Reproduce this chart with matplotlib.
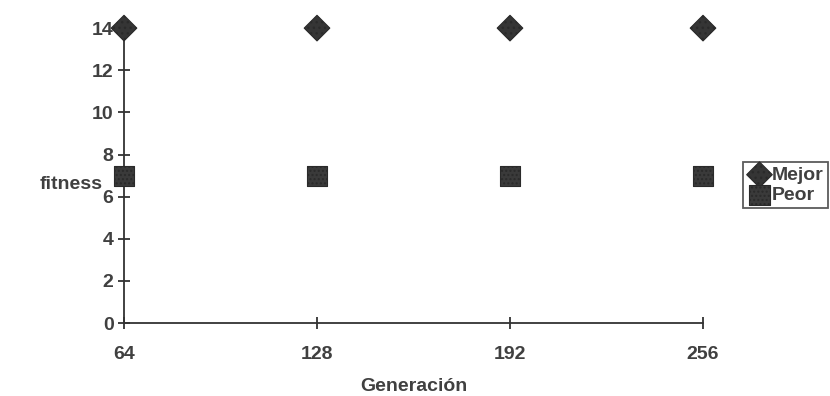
import matplotlib
matplotlib.use("Agg")
import matplotlib.pyplot as plt

generaciones = [64, 128, 192, 256]
mejor = [14, 14, 14, 14]
peor = [7, 7, 7, 7]
yticks = [0, 2, 4, 6, 8, 10, 12, 14]

plt.rcParams['font.family'] = ['Liberation Sans', 'DejaVu Sans']
plt.rcParams['hatch.color'] = '#aaaaaa'
plt.rcParams['hatch.linewidth'] = 1.0

fig = plt.figure(figsize=(8.3, 3.96), dpi=100)
ax = fig.add_axes([0.1494, 0.1843, 0.6976, 0.7447])

txt = '#404040'
ax.scatter(generaciones, mejor, marker='D', s=170, color='#353535',
           edgecolor='#2a2a2a', linewidth=0.8, hatch='...', zorder=5, clip_on=False,
           label='Mejor')
ax.scatter(generaciones, peor, marker='s', s=210, color='#3a3a3a',
           edgecolor='#2a2a2a', linewidth=0.8, hatch='....', zorder=5, clip_on=False,
           label='Peor')

ax.set_xlim(64, 256)
ax.set_ylim(0, 14)
ax.set_xticks(generaciones)
ax.set_xticklabels([str(g) for g in generaciones])
ax.set_yticks(yticks)

for s in ['top', 'right']:
    ax.spines[s].set_visible(False)
for s in ['left', 'bottom']:
    ax.spines[s].set_color('#333333')
    ax.spines[s].set_linewidth(1.3)

ax.tick_params(axis='both', direction='inout', length=9, width=1.3, color='#333333',
               labelsize=14, labelcolor=txt)
ax.tick_params(axis='x', pad=12)
ax.tick_params(axis='y', pad=3)
for lab in ax.get_xticklabels() + ax.get_yticklabels():
    lab.set_fontweight('bold')

ax.set_xlabel('Generación', fontsize=14, fontweight='bold', color=txt, labelpad=11)
ax.set_ylabel('fitness', fontsize=14, fontweight='bold', color=txt, rotation=0,
              ha='center', va='center')
ax.yaxis.set_label_coords(-0.091, 0.47)

leg = ax.legend(loc='upper left', bbox_to_anchor=(1.069, 0.545), frameon=True,
                fancybox=False, edgecolor='#333333',
                prop={'weight': 'bold', 'size': 14}, handletextpad=0.0,
                borderpad=0.2, labelspacing=0.15, handlelength=1.3,
                markerscale=1.0, borderaxespad=0)
leg.get_frame().set_linewidth(1.3)
for t in leg.get_texts():
    t.set_color(txt)

fig.savefig('out.png', dpi=100, facecolor='white')
